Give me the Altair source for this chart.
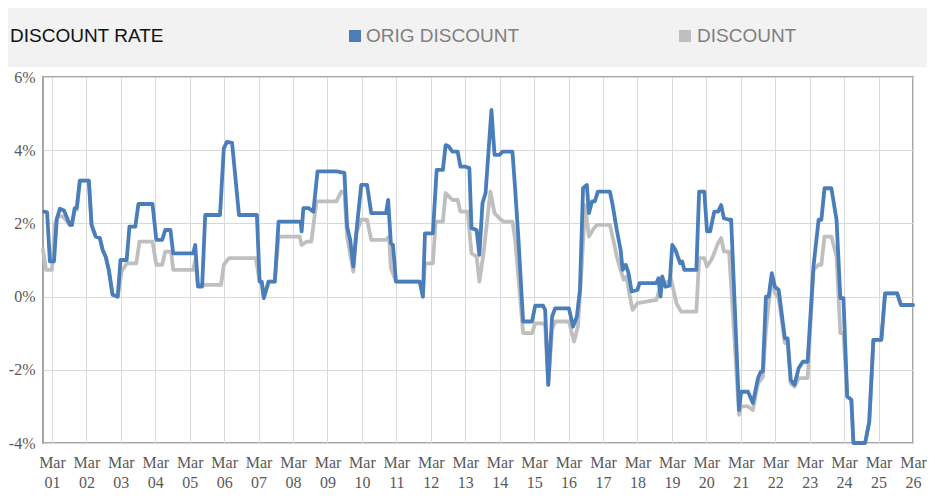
import altair as alt
import pandas as pd

title_text = "DISCOUNT RATE"
series_names = ["ORIG DISCOUNT", "DISCOUNT"]
series_colors = ["#4a7ebb", "#bfbfbf"]

x_ticks = list(range(1, 27))
y_ticks = [-4, -2, 0, 2, 4, 6]

# ORIG DISCOUNT (blue) - x in days of March, value in %
orig_day = [0.77, 0.86, 0.94, 1.06, 1.14, 1.23, 1.35, 1.52, 1.58, 1.66, 1.72, 1.81, 2.07, 2.15, 2.27,
            2.39, 2.47, 2.56, 2.65, 2.76, 2.91, 2.99, 3.17, 3.25, 3.42, 3.51, 3.92, 4.03, 4.20, 4.29,
            4.44, 4.52, 5.10, 5.16, 5.24, 5.36, 5.45, 5.88, 5.99, 6.08, 6.23, 6.43, 6.95, 7.03, 7.09,
            7.15, 7.29, 7.47, 7.58, 8.22, 8.25, 8.30, 8.45, 8.59, 8.71, 9.26, 9.49, 9.57, 9.66, 9.75,
            9.86, 9.98, 10.15, 10.27, 10.70, 10.76, 10.84, 10.90, 10.99, 11.68, 11.77, 11.83, 12.06,
            12.17, 12.35, 12.43, 12.52, 12.63, 12.78, 12.86, 13.01, 13.12, 13.18, 13.33, 13.41, 13.50,
            13.59, 13.76, 13.85, 13.99, 14.08, 14.37, 14.45, 14.54, 14.68, 14.94, 15.03, 15.26, 15.32,
            15.41, 15.52, 15.61, 16.01, 16.13, 16.24, 16.33, 16.42, 16.53, 16.59, 16.68, 16.76, 16.85,
            17.20, 17.28, 17.40, 17.51, 17.57, 17.66, 17.74, 17.83, 18.00, 18.06, 18.55, 18.61, 18.67,
            18.72, 18.81, 18.93, 19.01, 19.10, 19.24, 19.30, 19.36, 19.71, 19.79, 19.94, 20.02, 20.11,
            20.23, 20.34, 20.43, 20.51, 20.66, 20.72, 20.95, 21.01, 21.21, 21.35, 21.50, 21.58, 21.64,
            21.73, 21.81, 21.90, 21.99, 22.10, 22.28, 22.36, 22.45, 22.56, 22.68, 22.80, 22.94, 23.11,
            23.26, 23.34, 23.43, 23.63, 23.78, 23.89, 23.98, 24.09, 24.21, 24.27, 24.61, 24.73, 24.85,
            25.08, 25.19, 25.54, 25.65, 26.00]
orig_val = [2.32, 2.30, 0.96, 0.96, 2.12, 2.40, 2.35, 1.96, 1.96, 2.42, 2.42, 3.17, 3.17, 1.96, 1.64,
            1.60, 1.28, 1.09, 0.73, 0.05, 0.00, 1.00, 1.00, 1.91, 1.91, 2.53, 2.53, 1.55, 1.55, 1.82,
            1.82, 1.18, 1.18, 1.41, 0.27, 0.27, 2.23, 2.23, 4.05, 4.23, 4.20, 2.23, 2.23, 0.41, 0.41,
            -0.04, 0.41, 0.41, 2.05, 2.05, 1.78, 2.42, 2.42, 2.32, 3.42, 3.42, 3.38, 1.91, 1.55, 0.82,
            1.96, 3.05, 3.05, 2.28, 2.28, 2.64, 1.46, 1.41, 0.41, 0.41, 0.00, 1.73, 1.73,
            3.46, 3.46, 4.14, 4.10, 3.96, 3.96, 3.55, 3.55, 3.51, 1.87, 1.82, 1.14, 2.55,
            2.83, 5.10, 3.87, 3.87, 3.96, 3.96, 2.92, 1.64, -0.68, -0.68, -0.25, -0.25, -0.36,
            -2.41, -0.55, -0.32, -0.32, -0.82, -0.55, 0.18, 2.96, 3.05, 2.28, 2.60, 2.60, 2.87,
            2.87, 2.50, 1.82, 1.28, 0.73, 0.87, 0.64, 0.14, 0.18, 0.37, 0.37, 0.50, 0.00,
            0.55, 0.27, 0.30, 1.41, 1.28, 0.91, 0.96, 0.73, 0.73, 2.87, 2.87, 1.78, 1.78,
            2.32, 2.32, 2.50, 2.14, 2.10, 2.10, -3.10, -2.60, -2.60, -2.91, -2.23, -2.05, -2.05,
            0.00, 0.00, 0.64, 0.27, 0.18, -1.14, -1.14, -2.28, -2.41, -1.96, -1.78, -1.78, 0.82,
            2.10, 2.10, 2.96, 2.96, 2.10, -0.04, -0.04, -2.73, -2.82, -4.00, -4.00, -3.42, -1.18,
            -1.18, 0.09, 0.09, -0.23, -0.23]

# DISCOUNT (gray)
disc_day = [0.74, 0.83, 1.00, 1.09, 1.17, 1.32, 1.52, 1.58, 1.66, 1.72, 1.81, 2.07, 2.15, 2.27, 2.39,
            2.47, 2.56, 2.65, 2.76, 2.91, 3.02, 3.17, 3.45, 3.54, 3.92, 4.03, 4.20, 4.29, 4.46, 4.52,
            5.10, 5.16, 5.24, 5.91, 5.99, 6.14, 6.92, 7.03, 7.09, 7.15, 7.29, 7.47, 7.58, 8.19, 8.25,
            8.39, 8.53, 8.68, 9.26, 9.40, 9.49, 9.57, 9.75, 9.83, 9.98, 10.15, 10.27, 10.70, 10.79,
            10.84, 10.99, 11.68, 11.77, 11.83, 12.06, 12.14, 12.35, 12.43, 12.63, 12.78, 12.86, 13.07,
            13.18, 13.33, 13.41, 13.53, 13.73, 13.85, 13.99, 14.11, 14.37, 14.45, 14.68, 14.94, 15.03,
            15.26, 15.32, 15.41, 15.52, 15.61, 16.01, 16.16, 16.27, 16.36, 16.48, 16.59, 16.70, 16.82,
            17.20, 17.31, 17.40, 17.51, 17.60, 17.68, 17.77, 17.86, 18.00, 18.55, 18.70, 18.81, 18.98,
            19.13, 19.27, 19.71, 19.79, 19.94, 20.02, 20.17, 20.34, 20.43, 20.51, 20.66, 20.95, 21.01,
            21.21, 21.35, 21.50, 21.64, 21.73, 21.81, 21.90, 21.99, 22.10, 22.28, 22.36, 22.45, 22.56,
            22.68, 22.94, 23.11, 23.26, 23.34, 23.43, 23.63, 23.78, 23.89, 23.98, 24.09, 24.21, 24.27,
            24.61, 24.73, 24.85, 25.08, 25.19, 25.54, 25.65, 26.00]
disc_val = [1.28, 0.73, 0.73, 2.00, 2.19, 2.19, 1.96, 1.96, 2.37, 2.37, 3.17, 3.17, 1.96, 1.64, 1.60,
            1.28, 1.09, 0.73, 0.05, 0.00, 0.68, 0.91, 0.91, 1.50, 1.50, 0.87, 0.87, 1.23, 1.23, 0.73,
            0.73, 1.00, 0.32, 0.32, 0.87, 1.05, 1.05, 0.41, 0.41, -0.04, 0.41, 0.41, 1.64, 1.64, 1.41,
            1.50, 1.50, 2.60, 2.60, 2.87, 2.87, 1.64, 0.68, 1.73, 2.10, 2.10, 1.55, 1.55, 1.64,
            0.78, 0.41, 0.41, 0.00, 0.91, 0.91, 2.05, 2.05, 2.83, 2.64, 2.64, 2.32, 2.32,
            1.18, 1.09, 0.41, 1.18, 2.87, 2.28, 2.14, 2.05, 2.05, 1.55, -1.00, -1.00, -0.73,
            -0.73, -0.80, -2.41, -0.90, -0.68, -0.68, -1.23, -0.82, 0.46, 2.50, 1.64, 1.82, 1.96,
            1.96, 1.50, 1.09, 0.73, 0.46, 0.55, 0.05, -0.36, -0.18, -0.09, 0.41, 0.37, 0.46,
            -0.18, -0.41, -0.41, 1.05, 1.05, 0.82, 1.05, 1.46, 1.60, 1.23, 1.23, -3.23, -3.00,
            -3.00, -3.10, -2.37, -2.20, -0.91, -0.20, 0.50, 0.10, -0.05, -1.27, -1.27, -2.37, -2.46,
            -2.23, -2.23, 0.73, 0.87, 0.87, 1.64, 1.64, 1.09, -1.00, -1.00, -2.73, -2.82, -4.00,
            -4.00, -3.42, -1.18, -1.18, 0.09, 0.09, -0.23, -0.23]

df_orig = pd.DataFrame({"day": orig_day, "value": orig_val, "series": series_names[0]})
df_disc = pd.DataFrame({"day": disc_day, "value": disc_val, "series": series_names[1]})
one = pd.DataFrame({"k": [0]})

label_font = "Liberation Serif"
head_font = "Liberation Sans Narrow, Arial Narrow, Liberation Sans"

x_scale = alt.Scale(domain=[0.74, 26], nice=False, zero=False)
y_scale = alt.Scale(domain=[-4, 6], nice=False, zero=False)
color_scale = alt.Scale(domain=series_names, range=series_colors)

x_axis = alt.Axis(values=x_ticks,
                  labelExpr="['Mar', (datum.value < 10 ? '0' : '') + datum.value]",
                  grid=True, gridColor="#d9d9d9", ticks=False, domain=False,
                  labelFont=label_font, labelFontSize=16, labelColor="#595959",
                  labelPadding=11, labelLineHeight=20, labelFlush=False,
                  labelOverlap=False, title=None)
y_axis = alt.Axis(values=y_ticks, labelExpr="datum.value + '%'",
                  grid=True, gridColor="#d9d9d9", ticks=False, domain=False,
                  labelFont=label_font, labelFontSize=16, labelColor="#595959",
                  labelPadding=8, title=None)

band = alt.Chart(one).mark_rect(color="#f2f2f2").encode(
    x=alt.value(-35), x2=alt.value(884), y=alt.value(-69), y2=alt.value(-10))

title = alt.Chart(one).mark_text(align="left", baseline="middle", font=head_font,
                                 fontSize=19, color="#111111").encode(
    x=alt.value(-33), y=alt.value(-41), text=alt.value(title_text))

leg1_sq = alt.Chart(one).mark_rect(color=series_colors[0]).encode(
    x=alt.value(306), x2=alt.value(318), y=alt.value(-47), y2=alt.value(-35))
leg1_tx = alt.Chart(one).mark_text(align="left", baseline="middle", font=head_font,
                                   fontSize=19, color="#7f7f7f").encode(
    x=alt.value(323), y=alt.value(-41), text=alt.value(series_names[0]))
leg2_sq = alt.Chart(one).mark_rect(color=series_colors[1]).encode(
    x=alt.value(636), x2=alt.value(648), y=alt.value(-47), y2=alt.value(-35))
leg2_tx = alt.Chart(one).mark_text(align="left", baseline="middle", font=head_font,
                                   fontSize=19, color="#7f7f7f").encode(
    x=alt.value(654), y=alt.value(-41), text=alt.value(series_names[1]))

def line_layer(df):
    return alt.Chart(df).mark_line(strokeWidth=3.8, strokeJoin="round", strokeCap="round").encode(
        x=alt.X("day:Q", scale=x_scale, axis=x_axis),
        y=alt.Y("value:Q", scale=y_scale, axis=y_axis),
        color=alt.Color("series:N", scale=color_scale, legend=None),
    )

chart = alt.layer(
    line_layer(df_disc), line_layer(df_orig),
    band, title, leg1_sq, leg1_tx, leg2_sq, leg2_tx,
).properties(
    width=870, height=366, padding=0, background="white"
).configure_view(stroke="#a6a6a6", strokeWidth=2)

chart.save("out.html", embed_options={"renderer": "svg", "actions": False})
